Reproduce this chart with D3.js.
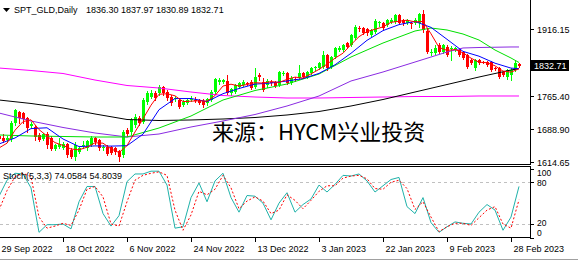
<!DOCTYPE html>
<html>
<head>
<meta charset="utf-8">
<script src="https://cdn.jsdelivr.net/npm/d3@7"></script>
<style>
  body { margin: 0; background: #fff; }
  svg { display: block; }
  text { font-family: "Liberation Sans", Arial, sans-serif; font-size: 9px; fill: #000; }
  .wm { font-family: "Noto Sans CJK SC", sans-serif; font-size: 22px; }
</style>
</head>
<body>
<script>
// daily bars, oldest first
var opens = [1673.6,1669.1,1664.5,1666.8,1703.1,1728.0,1725.7,1714.4,1696.3,1694.0,
  1675.9,1666.8,1678.1,1669.1,1644.1,1648.7,1646.4,1655.5,1641.8,1626.0,
  1637.3,1650.9,1646.4,1653.2,1669.1,1664.5,1646.4,1648.7,1648.7,1646.4,
  1639.6,1630.5,1687.2,1682.7,1698.5,1714.4,1705.3,1750.7,1762.0,1771.1,
  1771.1,1784.7,1773.3,1762.0,1757.5,1755.2,1743.9,1748.4,1755.2,1756.3,
  1755.2,1752.9,1748.4,1755.2,1773.3,1796.0,1796.0,1798.3,1771.1,1773.3,
  1784.7,1789.2,1793.7,1796.0,1784.7,1811.9,1796.0,1789.2,1796.0,1796.0,
  1789.2,1814.1,1816.4,1793.7,1802.8,1805.1,1816.4,1807.3,1816.4,1826.6,
  1827.7,1830.0,1857.2,1830.0,1852.7,1868.5,1868.5,1884.4,1879.9,1895.8,
  1918.4,1918.4,1916.2,1902.6,1909.4,1929.8,1929.8,1925.2,1932.0,1932.0,
  1947.9,1936.6,1929.8,1929.8,1929.8,1928.0,1949.5,1912.3,1861.7,1861.7,
  1879.9,1864.0,1875.4,1870.8,1868.5,1868.5,1864.0,1857.2,1845.9,1827.7,
  1845.9,1841.3,1841.3,1841.3,1827.7,1827.7,1818.7,1807.3,1811.9,1823.2,1836.30];
var highs = [1680.4,1678.1,1673.6,1707.6,1734.8,1730.3,1728.0,1716.7,1705.3,1698.5,
  1680.4,1680.4,1682.7,1673.6,1655.5,1669.1,1660.0,1657.7,1646.4,1660.0,
  1650.9,1662.3,1664.5,1673.6,1671.3,1666.8,1653.2,1653.2,1650.9,1648.7,
  1641.8,1687.2,1691.7,1714.4,1723.5,1718.9,1759.7,1775.6,1777.9,1775.6,
  1789.2,1786.9,1777.9,1766.5,1764.3,1759.7,1755.2,1757.5,1764.3,1762.0,
  1757.5,1757.5,1759.7,1777.9,1805.1,1805.1,1802.8,1811.9,1782.4,1791.5,
  1796.0,1800.5,1796.0,1800.5,1827.7,1816.4,1805.1,1802.8,1800.5,1798.3,
  1820.9,1820.9,1818.7,1809.6,1807.3,1834.5,1818.7,1820.9,1830.0,1832.3,
  1841.3,1866.3,1859.5,1855.0,1875.4,1877.6,1882.2,1886.7,1904.8,1925.2,
  1923.0,1920.7,1918.4,1916.2,1938.8,1934.3,1932.0,1938.8,1941.1,1950.2,
  1950.2,1938.8,1938.8,1932.0,1941.1,1951.5,1959.7,1918.0,1870.8,1879.9,
  1884.4,1882.2,1879.9,1877.6,1875.4,1870.8,1866.3,1859.5,1848.1,1848.1,
  1848.1,1843.6,1843.6,1843.6,1830.0,1830.0,1820.9,1825.5,1827.7,1843.6,1837.97];
var lows = [1662.3,1660.0,1660.0,1662.3,1698.5,1703.1,1703.1,1682.7,1691.7,1664.5,
  1662.3,1664.5,1646.4,1641.8,1641.8,1646.4,1644.1,1626.0,1623.7,1619.2,
  1635.0,1646.4,1641.8,1650.9,1655.5,1641.8,1641.8,1630.5,1632.8,1632.8,
  1616.9,1626.0,1673.6,1678.1,1694.0,1698.5,1703.1,1746.1,1759.7,1755.2,
  1766.5,1766.5,1755.2,1743.9,1752.9,1737.1,1741.6,1746.1,1752.9,1750.7,
  1746.1,1739.3,1743.9,1752.9,1771.1,1791.5,1793.7,1768.8,1766.5,1771.1,
  1782.4,1786.9,1789.2,1780.1,1782.4,1800.5,1775.6,1784.7,1789.2,1784.7,
  1786.9,1811.9,1791.5,1791.5,1798.3,1802.8,1805.1,1805.1,1814.1,1823.2,
  1825.5,1827.7,1823.2,1827.7,1850.4,1866.3,1866.3,1873.1,1877.6,1893.5,
  1911.6,1904.8,1902.6,1900.3,1907.1,1923.0,1916.2,1923.0,1929.8,1929.8,
  1927.5,1925.2,1927.5,1918.4,1927.5,1920.0,1910.0,1861.0,1857.2,1859.5,
  1861.7,1861.7,1855.0,1845.9,1866.3,1855.0,1848.1,1827.7,1836.8,1823.2,
  1836.8,1839.1,1832.3,1820.9,1823.2,1805.1,1809.6,1802.8,1800.5,1820.9,1830.89];
var closes = [1666.8,1662.3,1669.1,1703.1,1732.5,1714.4,1712.1,1691.7,1700.8,1671.3,
  1664.5,1678.1,1653.2,1644.1,1653.2,1655.5,1655.5,1630.5,1626.0,1653.2,
  1646.4,1653.2,1662.3,1669.1,1660.0,1646.4,1648.7,1632.8,1635.0,1637.3,
  1626.0,1682.7,1678.1,1709.9,1716.7,1703.1,1755.2,1771.1,1771.1,1759.7,
  1784.7,1771.1,1759.7,1748.4,1759.7,1739.3,1750.7,1755.2,1757.5,1755.2,
  1748.4,1743.9,1757.5,1773.3,1802.8,1800.5,1800.5,1771.1,1780.1,1789.2,
  1793.7,1796.0,1792.6,1782.4,1807.3,1807.3,1777.9,1798.3,1793.7,1786.9,
  1818.7,1816.4,1793.7,1805.1,1801.7,1816.4,1807.3,1818.7,1827.7,1830.0,
  1839.1,1857.2,1827.7,1852.7,1873.1,1873.1,1879.9,1875.4,1902.6,1920.7,
  1915.0,1907.1,1907.1,1913.9,1934.3,1930.9,1918.4,1936.6,1936.6,1947.9,
  1929.8,1929.8,1936.6,1928.6,1936.6,1949.5,1912.3,1865.3,1864.0,1873.1,
  1864.0,1879.9,1857.2,1873.1,1873.1,1857.2,1850.4,1830.0,1839.1,1845.9,
  1839.1,1840.2,1834.5,1823.2,1826.6,1807.3,1811.9,1823.2,1823.2,1839.1,1832.71];

var maRedIdx = d3.range(0, 131, 2);
var maRed = [1646.4,1657.3,1686.7,1706.2,1710.3,1688.1,1673.6,1658.6,1652.3,1644.1,
  1642.3,1648.2,1658.2,1657.3,1644.6,1636.0,1651.8,1682.7,1712.6,1743.4,
  1768.3,1769.3,1764.7,1751.6,1752.5,1753.4,1752.5,1765.2,1786.9,1791.0,
  1786.9,1790.3,1794.4,1793.5,1796.9,1795.1,1801.9,1807.1,1804.8,1814.4,
  1824.6,1836.4,1850.0,1861.3,1880.8,1898.7,1910.5,1915.5,1920.9,1931.3,
  1933.8,1936.1,1932.3,1933.2,1905.3,1874.4,1867.6,1869.5,1862.2,1850.0,
  1840.9,1839.8,1832.7,1820.7,1818.4,1825.9];
var maBlueIdx = [0,4,8,12,16,20,24,28,32,36,40,44,48,52,56,60,64,68,72,76,80,84,88,92,96,100,104,108,112,116,120,124,128,130];
var maBlue = [1655.5,1669.1,1690.4,1692.2,1666.8,1649.6,1651.1,1650.7,1651.6,1677.7,
  1733.2,1758.4,1758.6,1751.6,1769.5,1781.3,1791.2,1793.7,1798.3,1803.7,
  1815.5,1835.0,1861.1,1890.5,1912.5,1926.1,1933.2,1919.8,1892.8,1865.4,
  1854.5,1838.6,1827.5,1826.2];
var maGreenIdx = [0,8,16,24,32,40,48,56,64,72,80,88,96,104,108,112,116,120,124,128,130];
var maGreen = [1675.9,1673.6,1672.5,1671.3,1671.3,1691.7,1718.9,1755.2,1776.7,1791.5,
  1814.1,1852.7,1884.4,1911.6,1918.4,1913.9,1904.8,1891.2,1868.5,1850.4,1840.2];
var maPurpleIdx = [0,8,16,24,32,40,48,56,64,72,80,88,96,104,112,116,120,128,130];
var maPurple = [1725.7,1707.6,1692.9,1680.4,1671.3,1678.1,1694.0,1707.6,1722.3,1741.6,
  1764.3,1798.3,1818.7,1841.3,1864.0,1873.1,1874.2,1875.4,1875.4];
var maBlackIdx = [0,8,16,24,32,40,48,56,64,72,80,88,96,104,112,120,128,130];
var maBlack = [1755.2,1747.3,1737.1,1723.5,1711.0,1708.7,1709.9,1712.1,1715.5,1721.2,
  1729.1,1741.6,1756.3,1773.3,1790.3,1807.3,1823.2,1826.6];
var maMagentaIdx = [0,8,16,24,32,40,48,56,64,72,80,88,96,104,112,120,128,130];
var maMagenta = [1827.7,1822.1,1815.3,1800.5,1788.1,1782.4,1773.3,1765.4,1762.0,1759.7,
  1759.7,1760.9,1762.0,1763.1,1763.1,1764.3,1764.3,1764.3];

// stochastic (5,3,3), every second bar
var stochIdx = d3.range(0, 131, 2);
var stochK = [60,83,93,92,72,8,19,19,20,13, 52,74,74,35,17,32,81,92,92,96,
  96,76,14,16,58,79,52,82,93,58, 37,61,60,50,26,50,65,37,48,56,
  76,66,77,90,89,92,82,66,75,84, 87,45,35,58,22,8,16,23,21,20,
  37,48,40,11,30,74.0584];
var stochD = [40,68,88,93,88,30,14,17,21,18, 40,70,74,59,20,17,52,83,90,93,
  95,90,40,11,33,67,62,70,90,72, 42,53,59,53,35,40,62,54,42,54,
  67,75,75,86,89,90,85,71,70,80, 83,71,41,52,30,9,16,21,21,18,
  29,40,45,20,14,54.8039];

var priceTicks = [1916.15, 1765.40, 1688.90, 1614.65];
var stochTicks = [100, 80, 20, 0];
var dateIdx = [0, 16, 32, 48, 64, 80, 96, 112, 128];
var dateLabels = ["29 Sep 2022", "18 Oct 2022", "6 Nov 2022", "24 Nov 2022", "13 Dec 2022",
  "3 Jan 2023", "22 Jan 2023", "9 Feb 2023", "28 Feb 2023"];
var lastPrice = 1832.71;

var width = 578, height = 264, right = 530;

var svg = d3.select("body").append("svg")
    .attr("width", width)
    .attr("height", height);

var x = d3.scaleLinear().domain([0, 130]).range([-1, 519]);
var y = d3.scaleLinear().domain([1614.65, 1916.15]).range([162, 29]);
var ys = d3.scaleLinear().domain([0, 100]).range([237.9, 168.4]);

var defs = svg.append("defs");
defs.append("clipPath").attr("id", "clipMain")
  .append("rect").attr("x", 0).attr("y", 0).attr("width", right).attr("height", 164);
defs.append("clipPath").attr("id", "clipSub")
  .append("rect").attr("x", 0).attr("y", 167).attr("width", right).attr("height", 70);

var main = svg.append("g").attr("clip-path", "url(#clipMain)");
var sub = svg.append("g").attr("clip-path", "url(#clipSub)");

function px(i) { return Math.round(x(i)); }
function col(i) { return closes[i] >= opens[i] ? "#00ff00" : "#ff0000"; }

// candles
var bars = d3.range(closes.length);
main.selectAll("line.wick")
  .data(bars)
  .enter().append("line")
    .attr("class", "wick")
    .attr("x1", function(i) { return px(i) + 0.5; })
    .attr("x2", function(i) { return px(i) + 0.5; })
    .attr("y1", function(i) { return Math.round(y(highs[i])); })
    .attr("y2", function(i) { return Math.round(y(lows[i])) + 1; })
    .attr("stroke", col)
    .attr("shape-rendering", "crispEdges");

main.selectAll("rect.body")
  .data(bars)
  .enter().append("rect")
    .attr("class", "body")
    .attr("x", function(i) { return px(i) - 1; })
    .attr("y", function(i) { return Math.round(y(Math.max(opens[i], closes[i]))); })
    .attr("width", 3)
    .attr("height", function(i) {
      return Math.max(1, Math.round(Math.abs(y(opens[i]) - y(closes[i]))));
    })
    .attr("fill", col)
    .attr("shape-rendering", "crispEdges");

// moving averages
var maLine = d3.line()
    .x(function(d) { return x(d[0]); })
    .y(function(d) { return y(d[1]); });

[[maMagentaIdx, maMagenta, "#ff00ff"],
 [maBlackIdx, maBlack, "#000000"],
 [maPurpleIdx, maPurple, "#8a2be2"],
 [maGreenIdx, maGreen, "#00e000"],
 [maBlueIdx, maBlue, "#0000ff"],
 [maRedIdx, maRed, "#ff0000"]].forEach(function(s) {
  main.append("path")
    .attr("d", maLine(d3.zip(s[0], s[1])))
    .attr("fill", "none")
    .attr("stroke", s[2])
    .attr("stroke-width", 1);
});

// watermark
svg.append("text")
  .attr("class", "wm")
  .attr("x", 212)
  .attr("y", 140)
  .text("来源：HYCM兴业投资");

// stochastic levels
[80, 20].forEach(function(v) {
  sub.append("line")
    .attr("x1", 0).attr("x2", right)
    .attr("y1", Math.round(ys(v)) + 0.5).attr("y2", Math.round(ys(v)) + 0.5)
    .attr("stroke", "#c0c0c0")
    .attr("stroke-dasharray", "3,3");
});

var stLine = d3.line()
    .x(function(d) { return x(d[0]); })
    .y(function(d) { return ys(d[1]); });

sub.append("path")
  .attr("d", stLine(d3.zip(stochIdx, stochK)))
  .attr("fill", "none")
  .attr("stroke", "#20b2aa");

sub.append("path")
  .attr("d", stLine(d3.zip(stochIdx, stochD)))
  .attr("fill", "none")
  .attr("stroke", "#ff0000")
  .attr("stroke-dasharray", "2,2");

// frames
var frame = svg.append("g").attr("stroke", "#000").attr("shape-rendering", "crispEdges");
frame.append("line").attr("x1", right + 0.5).attr("x2", right + 0.5).attr("y1", 0).attr("y2", 165);
frame.append("line").attr("x1", 0).attr("x2", right + 1).attr("y1", 164.5).attr("y2", 164.5);
frame.append("line").attr("x1", 0).attr("x2", right + 1).attr("y1", 166.5).attr("y2", 166.5);
frame.append("line").attr("x1", right + 0.5).attr("x2", right + 0.5).attr("y1", 166).attr("y2", 238);
frame.append("line").attr("x1", 0).attr("x2", right + 1).attr("y1", 237.5).attr("y2", 237.5);

svg.append("line")
  .attr("x1", 0).attr("x2", width).attr("y1", 259.5).attr("y2", 259.5)
  .attr("stroke", "#a0a0a0");

// price axis
var pAxis = svg.append("g");
priceTicks.forEach(function(v) {
  var yy = Math.round(y(v)) + 0.5;
  pAxis.append("line").attr("x1", right).attr("x2", right + 4)
    .attr("y1", yy).attr("y2", yy).attr("stroke", "#000");
  pAxis.append("text").attr("x", 537).attr("y", yy + 3.5).text(v.toFixed(2));
});

// current price box
var ly = y(lastPrice);
svg.append("rect")
  .attr("x", 531).attr("y", Math.round(ly) - 6)
  .attr("width", 38).attr("height", 11)
  .attr("fill", "#000");
svg.append("text")
  .attr("x", 534).attr("y", Math.round(ly) + 3)
  .style("fill", "#fff")
  .text(lastPrice.toFixed(2));

// stochastic axis
var stLabelY = {100: 176, 80: 185.5, 20: 226, 0: 236};
stochTicks.forEach(function(v) {
  var yy = Math.round(ys(Math.min(v, 99))) + 0.5;
  svg.append("line").attr("x1", right).attr("x2", right + 4)
    .attr("y1", yy).attr("y2", yy).attr("stroke", "#000");
  svg.append("text").attr("x", 537).attr("y", stLabelY[v])
    .style("font-size", "8.5px").text(v);
});

// date axis
dateIdx.forEach(function(i, k) {
  var xx = px(i) + 0.5;
  svg.append("line").attr("x1", xx).attr("x2", xx)
    .attr("y1", 238).attr("y2", 242).attr("stroke", "#000");
  svg.append("text").attr("x", xx + 2).attr("y", 252).text(dateLabels[k]);
});

// titles
svg.append("path").attr("d", "M3,8 L10,8 L6.5,12 Z").attr("fill", "#000");
svg.append("text").attr("x", 14).attr("y", 13).text("SPT_GLD,Daily");
svg.append("text").attr("x", 86).attr("y", 13)
  .text(opens[130].toFixed(2) + " " + highs[130].toFixed(2) + " " + lows[130].toFixed(2) + " " + closes[130].toFixed(2));
svg.append("text").attr("x", 3).attr("y", 179)
  .text("Stoch(5,3,3) " + stochK[stochK.length - 1].toFixed(4) + " " + stochD[stochD.length - 1].toFixed(4));
</script>
</body>
</html>
